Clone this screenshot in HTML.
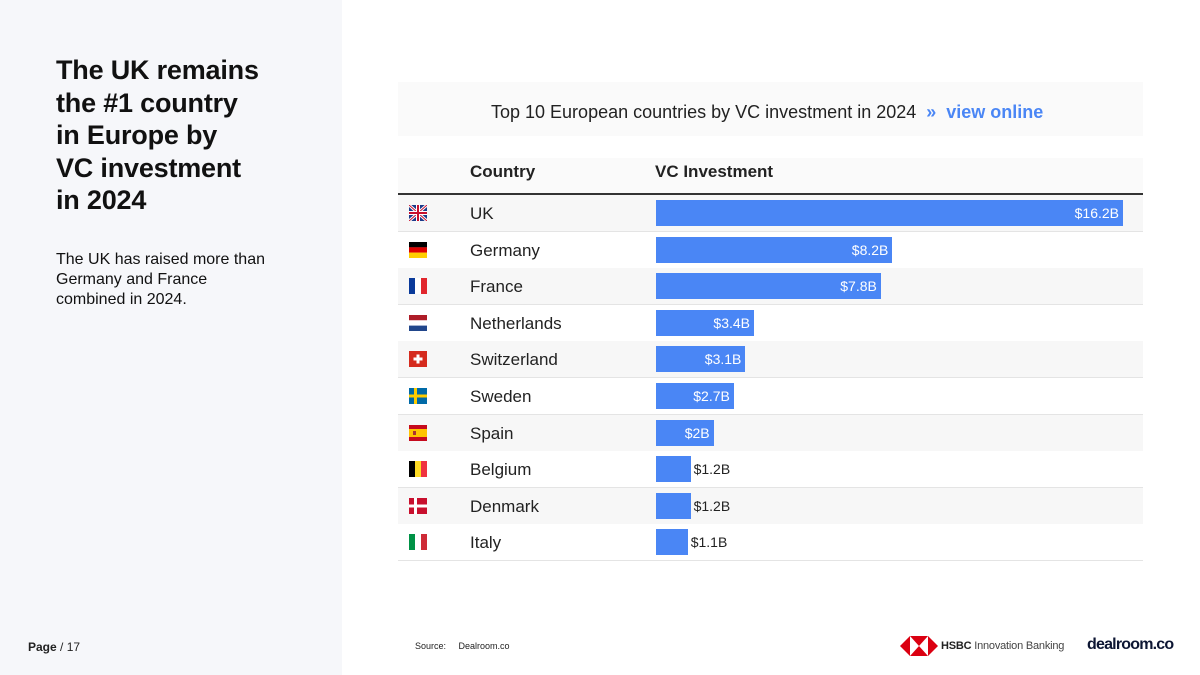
<!DOCTYPE html>
<html><head><meta charset="utf-8"><style>
body{margin:0;width:1200px;height:675px;background:#fff;font-family:"Liberation Sans",sans-serif;position:relative;overflow:hidden}
.abs{position:absolute}
#left{left:0;top:0;width:342px;height:675px;background:#f6f7fa}
h1{position:absolute;left:56px;top:54px;margin:0;font-size:27px;line-height:32.5px;font-weight:bold;color:#111;letter-spacing:-0.2px}
.sub{left:56px;top:250px;font-size:16px;line-height:20px;color:#111}
.row{position:absolute;left:398px;width:745px;height:36px;border-bottom:1px solid #e4e4e4}
.cname{position:absolute;left:72px;top:9px;font-size:17px;color:#222}
.flag{position:absolute;left:11px;top:10px;width:18px;height:16px}
.bar{position:absolute;top:5px;height:26px;background:#4a86f5}
.val{position:absolute;top:10px;font-size:14px}
</style></head><body>
<div id="left" class="abs"></div>
<h1>The UK remains<br>the #1 country<br>in Europe by<br>VC investment<br>in 2024</h1>
<div class="abs sub">The UK has raised more than<br>Germany and France<br>combined in 2024.</div>
<div class="abs" style="left:398px;top:82px;width:745px;height:54px;background:#fafafa"></div>
<div class="abs" style="left:491px;top:102px;font-size:18px;color:#222">Top 10 European countries by VC investment in 2024 <span style="color:#4a86f5;font-weight:bold">&nbsp;»&nbsp; <span>view online</span></span></div>
<div class="abs" style="left:398px;top:158px;width:745px;height:35px;background:#fafafa;border-bottom:2px solid #333">
<span class="abs" style="left:72px;top:4px;font-size:17px;font-weight:bold;color:#222">Country</span>
<span class="abs" style="left:257px;top:4px;font-size:17px;font-weight:bold;color:#222">VC Investment</span>
</div>
<div id="rows"></div>
<div class="abs" style="left:28px;top:640px;font-size:12px;color:#222"><b>Page</b> / 17</div>
<div class="abs" style="left:415px;top:641px;font-size:9px;color:#222">Source:&nbsp;&nbsp;&nbsp;&nbsp; Dealroom.co</div>
<div class="abs" style="left:900px;top:636px;width:38px;height:20px">
<svg width="38" height="20"><polygon points="0,10 10,0 10,20" fill="#db0011"/><polygon points="38,10 28,0 28,20" fill="#db0011"/><polygon points="10,0 28,0 19,10" fill="#db0011"/><polygon points="10,20 28,20 19,10" fill="#db0011"/></svg></div>
<div class="abs" style="left:941px;top:640px;font-size:11px;color:#222;letter-spacing:-0.2px"><b>HSBC</b> <span style="color:#444">Innovation Banking</span></div>
<div class="abs" style="left:1087px;top:636px;font-size:16px;font-weight:bold;color:#0d1633;letter-spacing:-0.8px">dealroom.co</div>
<script>
const countries=["UK","Germany","France","Netherlands","Switzerland","Sweden","Spain","Belgium","Denmark","Italy"];
const values=[16.2,8.2,7.8,3.4,3.1,2.7,2,1.2,1.2,1.1];
const labels=["$16.2B","$8.2B","$7.8B","$3.4B","$3.1B","$2.7B","$2B","$1.2B","$1.2B","$1.1B"];
const flags={
UK:'<rect width="18" height="16" fill="#1a3a8a"/><path d="M0 0L18 16M18 0L0 16" stroke="#fff" stroke-width="3"/><path d="M0 0L18 16M18 0L0 16" stroke="#c8102e" stroke-width="1"/><path d="M9 0V16M0 8H18" stroke="#fff" stroke-width="4"/><path d="M9 0V16M0 8H18" stroke="#c8102e" stroke-width="2"/>',
Germany:'<rect width="18" height="5.4" fill="#000"/><rect y="5.3" width="18" height="5.4" fill="#dd0000"/><rect y="10.6" width="18" height="5.4" fill="#ffce00"/>',
France:'<rect width="6" height="16" fill="#0a3a9a"/><rect x="6" width="6" height="16" fill="#fff"/><rect x="12" width="6" height="16" fill="#e1262d"/>',
Netherlands:'<rect width="18" height="5.4" fill="#ae1c28"/><rect y="5.3" width="18" height="5.4" fill="#fff"/><rect y="10.6" width="18" height="5.4" fill="#21468b"/>',
Switzerland:'<rect width="18" height="16" fill="#d52b1e"/><rect x="7.5" y="3.5" width="3" height="9" fill="#fff"/><rect x="4.5" y="6.5" width="9" height="3" fill="#fff"/>',
Sweden:'<rect width="18" height="16" fill="#006aa7"/><rect x="5" width="3" height="16" fill="#fecc00"/><rect y="6.5" width="18" height="3" fill="#fecc00"/>',
Spain:'<rect width="18" height="16" fill="#c60b1e"/><rect y="4" width="18" height="8" fill="#ffc400"/><rect x="4" y="6" width="3" height="4" fill="#a33"/>',
Belgium:'<rect width="6" height="16" fill="#000"/><rect x="6" width="6" height="16" fill="#fdda24"/><rect x="12" width="6" height="16" fill="#ef3340"/>',
Denmark:'<rect width="18" height="16" fill="#c8102e"/><rect x="5" width="3" height="16" fill="#fff"/><rect y="6.5" width="18" height="3" fill="#fff"/>',
Italy:'<rect width="6" height="16" fill="#009246"/><rect x="6" width="6" height="16" fill="#fff"/><rect x="12" width="6" height="16" fill="#ce2b37"/>'};
const x0=258, pxPer=467/16.2, top0=195, rh=36.6;
const rows=document.getElementById('rows');
countries.forEach((c,i)=>{
 const r=document.createElement('div');r.className='row';
 
 
 r.style.top=(top0+i*rh)+'px';r.style.background=i%2?'#fff':'#f7f7f7';
 const w=values[i]*pxPer;
 const inside=w>52;
 r.innerHTML='<svg class="flag" viewBox="0 0 18 16">'+flags[c]+'</svg><span class="cname">'+c+'</span>';
 const f=r.querySelector('.flag');
 
 
 const b=document.createElement('div');b.className='bar';b.style.left=x0+'px';b.style.width=w+'px';
 
 
 r.appendChild(b);
 const v=document.createElement('span');v.className='val';v.textContent=labels[i];
 
 
 if(inside){v.style.right=(745-x0-w+4)+'px';v.style.color='#fff';}
 else{v.style.left=(x0+w+3)+'px';v.style.color='#222';}
 r.appendChild(v);
 rows.appendChild(r);
});
</script>
</body></html>
